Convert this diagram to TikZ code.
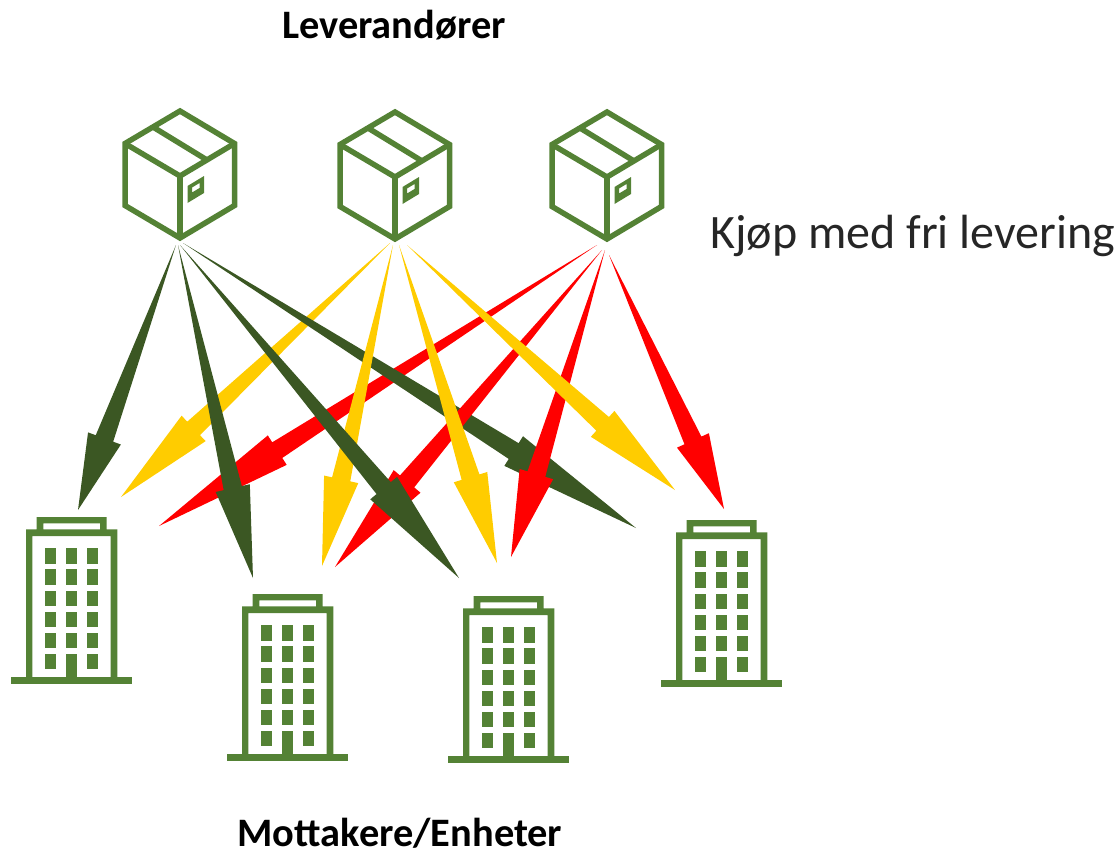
\documentclass[tikz,border=0pt]{standalone}
\usepackage{fontspec}
\setmainfont{Carlito}
\usetikzlibrary{calc}
\definecolor{icong}{HTML}{548235}
\definecolor{dgreen}{HTML}{3B5723}
\definecolor{ayellow}{HTML}{FFCC00}
\definecolor{ared}{HTML}{FF0000}
\tikzset{
  iconline/.style={draw=icong,line width=5.5pt,line join=miter,fill=none},
  boldlabel/.style={font=\bfseries\fontsize{40.4}{44}\selectfont,text=black,inner sep=0pt},
  plainlabel/.style={font=\fontsize{48}{52}\selectfont,text=black!85!white,inner sep=0pt},
  pics/boxicon/.style={code={
    \draw[iconline] (0,0) -- (54.5,32.5) -- (54.5,94.5) -- (0,127) -- (-55,94.5) -- (-55,32.5) -- cycle;
    \draw[iconline] (-55,32.5) -- (0,65) -- (54.5,32.5);
    \draw[iconline] (0,65) -- (0,127);
    \draw[iconline] (-27,16) -- (27,49);
    \fill[icong,even odd rule] (7.5,75) -- (24,65) -- (24,82) -- (7.5,92) -- cycle
      (12,76.5) -- (19.5,72) -- (19.5,77) -- (12,81.5) -- cycle;
  }},
  pics/bldgicon/.style={code={
    \fill[icong] (0,160.3) rectangle (121,167);
    \fill[icong,even odd rule] (15,12.3) -- (25.7,12.3) -- (25.7,0) -- (95.7,0) -- (95.7,12.3) -- (106.3,12.3) -- (106.3,160.3)
      -- (99.7,160.3) -- (99.7,19) -- (21.3,19) -- (21.3,160.3) -- (15,160.3) -- cycle
      (32.3,6.3) -- (89,6.3) -- (89,12.3) -- (32.3,12.3) -- cycle;
    \foreach \cx in {34,55,76.3} \foreach \ry in {0,1,2,3,4,5}
      \fill[icong] (\cx,31.3+\ry*21.1) rectangle ++(11,15.4);
    \fill[icong] (55,136.8) rectangle (66,161);
  }}
}
% \wedgearrow{start}{tip}{colour}: a tapered arrow, from a point to a wide head
\newcommand{\wedgearrow}[3]{%
  \fill[#3] let \p1=(#1), \p2=(#2), \n2={atan2(\y2-\y1,\x2-\x1)} in
    (#1) -- ($(\p1)!0.73!(\p2)+(\n2+90:9.3pt)$)
    -- ($(\p1)!0.73!(\p2)+(\n2+90:17.5pt)$) -- (#2)
    -- ($(\p1)!0.73!(\p2)+(\n2-90:17.5pt)$)
    -- ($(\p1)!0.73!(\p2)+(\n2-90:9.3pt)$) -- cycle;}
\begin{document}
\begin{tikzpicture}[x=1pt,y=-1pt]
\useasboundingbox (0,0) rectangle (1120,855);
\node[boldlabel] (sup) at (394,25) {Leverandører};
\node[boldlabel] (rec) at (400,833.5) {Mottakere/Enheter};
\node[plainlabel,anchor=west] (kjop) at (710,236) {Kjøp med fri levering};

\pic at (180,111) {boxicon};
\pic at (395,112) {boxicon};
\pic at (607,112) {boxicon};

\pic at (11,517) {bldgicon};
\pic at (227,594) {bldgicon};
\pic at (448,596) {bldgicon};
\pic at (661,520) {bldgicon};

\coordinate (g1s) at (176,245); \coordinate (g1t) at (78,510);
\coordinate (g2s) at (178,245); \coordinate (g2t) at (253,578);
\coordinate (g3s) at (180,245); \coordinate (g3t) at (459,578);
\coordinate (g4s) at (183,243); \coordinate (g4t) at (636,528);
\coordinate (y1s) at (390,243); \coordinate (y1t) at (121,497);
\coordinate (y2s) at (393,245); \coordinate (y2t) at (322,566);
\coordinate (y3s) at (399,245); \coordinate (y3t) at (497,563);
\coordinate (y4s) at (407,245); \coordinate (y4t) at (675,490);
\coordinate (r1s) at (597,245); \coordinate (r1t) at (159,526);
\coordinate (r2s) at (602,250); \coordinate (r2t) at (335,567);
\coordinate (r3s) at (605,250); \coordinate (r3t) at (511,557);
\coordinate (r4s) at (609,255); \coordinate (r4t) at (724,509);

\wedgearrow{r1s}{r1t}{ared}
\wedgearrow{y1s}{y1t}{ayellow}
\wedgearrow{g1s}{g1t}{dgreen}
\wedgearrow{g2s}{g2t}{dgreen}
\wedgearrow{g4s}{g4t}{dgreen}
\wedgearrow{r2s}{r2t}{ared}
\wedgearrow{r3s}{r3t}{ared}
\wedgearrow{r4s}{r4t}{ared}
\wedgearrow{y2s}{y2t}{ayellow}
\wedgearrow{y3s}{y3t}{ayellow}
\wedgearrow{y4s}{y4t}{ayellow}
\wedgearrow{g3s}{g3t}{dgreen}
\end{tikzpicture}
\end{document}
